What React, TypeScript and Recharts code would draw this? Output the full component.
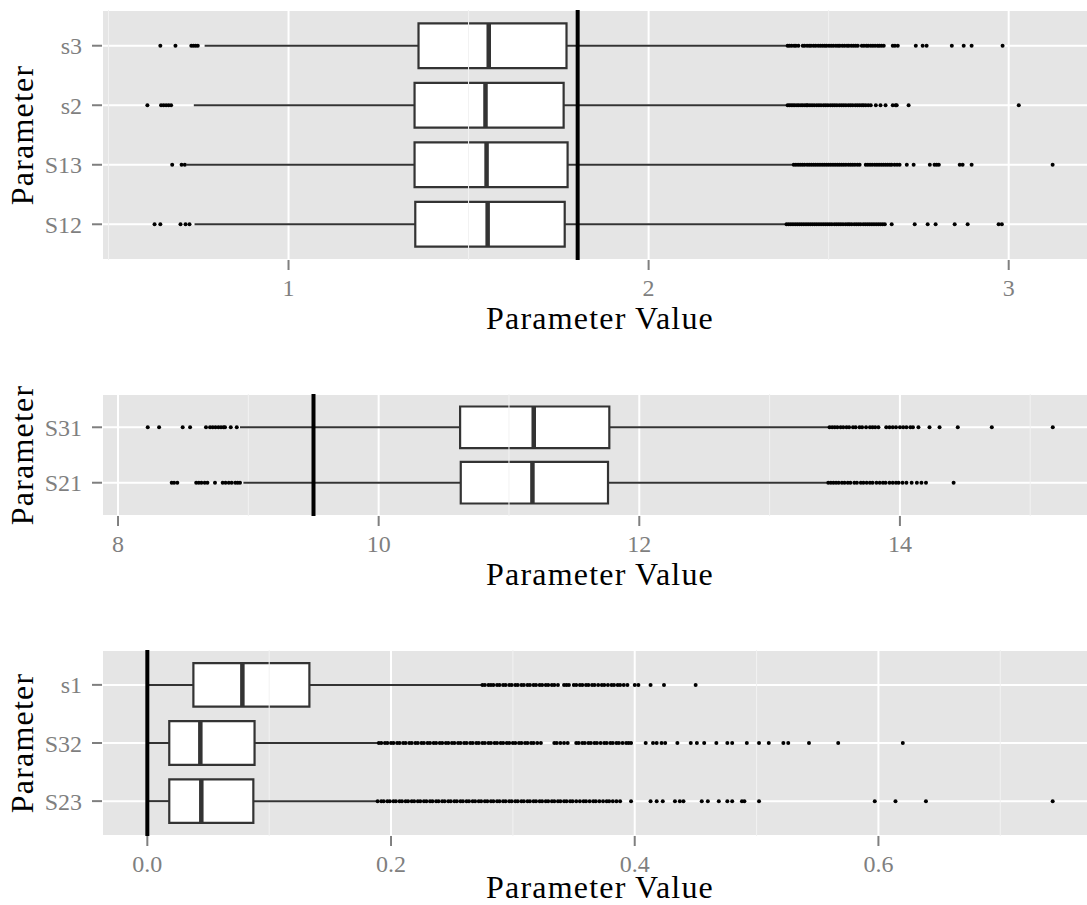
import {
  ScatterChart,
  Scatter,
  XAxis,
  YAxis,
  CartesianGrid,
  ReferenceArea,
  ReferenceLine,
  Label,
} from "recharts";

// categories are listed bottom -> top, like ggplot's factor levels
const P1_PARAMS = ["S12", "S13", "s2", "s3"];
const P1_LOWER = [0.739, 0.717, 0.737, 0.767];
const P1_Q1 = [1.352, 1.35, 1.35, 1.361];
const P1_MEDIAN = [1.553, 1.55, 1.547, 1.556];
const P1_Q3 = [1.767, 1.775, 1.764, 1.772];
const P1_UPPER = [2.381, 2.403, 2.386, 2.386];
const P1_OUTLIERS = [
  [0.628, 0.644, 0.7, 0.714, 0.725,
    2.383, 2.389, 2.395, 2.401, 2.407, 2.413, 2.419, 2.425, 2.431, 2.437, 2.443, 2.449, 2.455, 2.461,
    2.467, 2.473, 2.479, 2.485, 2.491, 2.497, 2.503, 2.509, 2.516, 2.522, 2.528, 2.534, 2.54, 2.547,
    2.553, 2.558, 2.564, 2.571, 2.577, 2.583, 2.589, 2.596, 2.602, 2.608, 2.614, 2.62, 2.626, 2.632,
    2.638, 2.644, 2.65, 2.656, 2.675, 2.739, 2.775, 2.797, 2.85, 2.886, 2.972, 2.981],
  [0.677, 0.703, 0.712,
    2.403, 2.409, 2.415, 2.421, 2.427, 2.433, 2.44, 2.446, 2.452, 2.458, 2.464, 2.47, 2.476, 2.482,
    2.488, 2.494, 2.5, 2.506, 2.512, 2.518, 2.524, 2.53, 2.536, 2.542, 2.548, 2.555, 2.561, 2.567,
    2.573, 2.58, 2.586, 2.603, 2.609, 2.615, 2.621, 2.628, 2.634, 2.64, 2.646, 2.652, 2.658, 2.664,
    2.67, 2.675, 2.683, 2.69, 2.697, 2.717, 2.736, 2.781, 2.794, 2.8, 2.806, 2.864, 2.872, 2.897, 3.122],
  [0.608, 0.646, 0.653, 0.66, 0.667, 0.674,
    2.386, 2.391, 2.396, 2.401, 2.406, 2.412, 2.417, 2.423, 2.428, 2.434, 2.439, 2.442, 2.448, 2.454,
    2.46, 2.467, 2.473, 2.479, 2.486, 2.492, 2.498, 2.505, 2.511, 2.517, 2.523, 2.53, 2.536, 2.542,
    2.548, 2.555, 2.561, 2.567, 2.574, 2.58, 2.586, 2.592, 2.597, 2.603, 2.61, 2.617, 2.631, 2.644,
    2.658, 2.678, 2.686, 2.689, 2.722, 3.028],
  [0.644, 0.686, 0.73, 0.736, 0.742, 0.748,
    2.386, 2.391, 2.397, 2.404, 2.409, 2.416, 2.428, 2.433, 2.44, 2.446, 2.451, 2.458, 2.464, 2.471,
    2.477, 2.483, 2.489, 2.494, 2.501, 2.507, 2.513, 2.52, 2.526, 2.531, 2.538, 2.544, 2.551, 2.556,
    2.563, 2.569, 2.575, 2.581, 2.592, 2.598, 2.605, 2.61, 2.617, 2.623, 2.629, 2.636, 2.641, 2.647,
    2.653, 2.678, 2.684, 2.692, 2.742, 2.761, 2.772, 2.842, 2.875, 2.897, 2.983],
];
const P1_REF = 1.803;

const P2_PARAMS = ["S21", "S31"];
const P2_LOWER = [8.962, 8.936];
const P2_Q1 = [10.63, 10.625];
const P2_MEDIAN = [11.18, 11.19];
const P2_Q3 = [11.76, 11.77];
const P2_UPPER = [13.44, 13.455];
const P2_OUTLIERS = [
  [8.412, 8.43, 8.455, 8.6, 8.62, 8.64, 8.665, 8.686, 8.744, 8.803, 8.825, 8.85, 8.872, 8.9, 8.918,
    8.936, 13.45, 13.47, 13.49, 13.51, 13.53, 13.555, 13.575, 13.6, 13.62, 13.65, 13.67, 13.7, 13.72,
    13.745, 13.77, 13.79, 13.82, 13.845, 13.87, 13.89, 13.92, 13.945, 13.97, 13.99, 14.02, 14.05,
    14.09, 14.13, 14.165, 14.2, 14.412],
  [8.228, 8.315, 8.496, 8.553, 8.675, 8.706, 8.727, 8.748, 8.77, 8.79, 8.81, 8.821, 8.865, 8.911,
    13.46, 13.48, 13.5, 13.52, 13.545, 13.565, 13.59, 13.61, 13.64, 13.66, 13.69, 13.71, 13.74, 13.77,
    13.79, 13.81, 13.835, 13.895, 13.92, 13.945, 13.97, 14.0, 14.025, 14.05, 14.08, 14.1, 14.142,
    14.227, 14.304, 14.444, 14.705, 15.173],
];
const P2_REF = 9.5;

const P3_PARAMS = ["S23", "S32", "s1"];
const P3_LOWER = [0, 0, 0];
const P3_Q1 = [0.018, 0.018, 0.0378];
const P3_MEDIAN = [0.0443, 0.0435, 0.078];
const P3_Q3 = [0.087, 0.088, 0.133];
const P3_UPPER = [0.189, 0.19, 0.274];
const P3_OUTLIERS = [
  [0.189, 0.192, 0.194, 0.197, 0.199, 0.202, 0.204, 0.207, 0.209, 0.212, 0.214, 0.217, 0.219, 0.222,
    0.224, 0.227, 0.229, 0.232, 0.234, 0.237, 0.239, 0.242, 0.244, 0.247, 0.249, 0.252, 0.254, 0.257,
    0.259, 0.262, 0.264, 0.267, 0.269, 0.272, 0.274, 0.277, 0.279, 0.282, 0.284, 0.287, 0.289, 0.292,
    0.294, 0.297, 0.299, 0.302, 0.304, 0.307, 0.309, 0.312, 0.314, 0.317, 0.319, 0.322, 0.324, 0.327,
    0.329, 0.332, 0.334, 0.337, 0.339, 0.342, 0.344, 0.347, 0.349, 0.352, 0.355, 0.358, 0.36, 0.363,
    0.366, 0.368, 0.371, 0.374, 0.377, 0.379, 0.382, 0.385, 0.388, 0.397, 0.413, 0.418, 0.423, 0.433,
    0.437, 0.44, 0.455, 0.46, 0.469, 0.476, 0.48, 0.488, 0.49, 0.502, 0.597, 0.614, 0.639, 0.743],
  [0.19, 0.192, 0.195, 0.197, 0.2, 0.202, 0.205, 0.207, 0.21, 0.212, 0.215, 0.217, 0.22, 0.222, 0.225,
    0.227, 0.23, 0.232, 0.235, 0.237, 0.24, 0.242, 0.245, 0.247, 0.25, 0.252, 0.255, 0.257, 0.26,
    0.262, 0.265, 0.267, 0.27, 0.272, 0.275, 0.277, 0.28, 0.282, 0.285, 0.287, 0.29, 0.292, 0.295,
    0.297, 0.3, 0.302, 0.305, 0.307, 0.31, 0.312, 0.315, 0.317, 0.32, 0.323, 0.334, 0.336, 0.339,
    0.342, 0.345, 0.352, 0.354, 0.357, 0.359, 0.362, 0.364, 0.367, 0.369, 0.372, 0.375, 0.377, 0.38,
    0.382, 0.385, 0.387, 0.39, 0.393, 0.395, 0.397, 0.409, 0.415, 0.418, 0.422, 0.425, 0.435, 0.446,
    0.451, 0.457, 0.467, 0.476, 0.48, 0.492, 0.502, 0.51, 0.522, 0.526, 0.543, 0.567, 0.62],
  [0.275, 0.277, 0.28, 0.282, 0.284, 0.287, 0.289, 0.292, 0.294, 0.297, 0.299, 0.302, 0.304, 0.307,
    0.309, 0.312, 0.314, 0.317, 0.319, 0.322, 0.324, 0.327, 0.329, 0.332, 0.334, 0.337, 0.342, 0.344,
    0.346, 0.35, 0.352, 0.355, 0.357, 0.36, 0.362, 0.365, 0.367, 0.37, 0.373, 0.375, 0.378, 0.381,
    0.383, 0.386, 0.388, 0.391, 0.394, 0.4, 0.403, 0.413, 0.424, 0.45],
];
const P3_REF = 0;

const FONT = '"Liberation Serif", "Times New Roman", serif';
const GREY = "#7F7F7F";
const BOX = "#333333";

function makeXTitle(offset: number) {
  return function XTitle(props: any) {
    const vb = props.viewBox || { x: 102, y: 0, width: 996 };
    return (
      <text x={vb.x + vb.width / 2} y={vb.y + offset} textAnchor="middle" fontFamily={FONT}
        fontSize={32} letterSpacing={1.2} fill="#000">
        Parameter Value
      </text>
    );
  };
}

function YTitle(props: any) {
  const vb = props.viewBox || { y: 0, height: 100 };
  const cy = vb.y + vb.height / 2;
  return (
    <text x={33} y={cy} transform={`rotate(-90, 33, ${cy})`} textAnchor="middle" fontFamily={FONT}
      fontSize={32} letterSpacing={1.2} fill="#000">
      Parameter
    </text>
  );
}

const Dot = (p: any) => <circle cx={p.cx} cy={p.cy} r={2} fill="#000" />;

function Panel(p: any) {
  const n = p.params.length;
  const rows = p.params.map((_: string, i: number) => i + 1);
  const points = p.outliers.flatMap((row: number[], i: number) => row.map((x) => ({ x, y: i + 1 })));
  const marginTop = p.plotTop - p.chartTop;
  return (
    <div style={{ position: "absolute", left: 0, top: p.chartTop }}>
      <ScatterChart width={1100} height={marginTop + p.plotHeight + p.axisHeight}
        margin={{ top: marginTop, right: 2, bottom: 0, left: 0 }}>
        <CartesianGrid fill="#E5E5E5" fillOpacity={1} stroke="#FFFFFF" strokeWidth={2} />
        <XAxis type="number" dataKey="x" domain={p.domain} allowDataOverflow ticks={p.ticks} interval={0}
          tickFormatter={p.fmt} axisLine={false} tickLine={{ stroke: GREY, strokeWidth: 2 }} tickSize={10}
          tickMargin={9} height={p.axisHeight} tick={{ fill: GREY, fontSize: 24, fontFamily: FONT }}>
          <Label content={makeXTitle(p.titleOffset)} />
        </XAxis>
        <YAxis type="number" dataKey="y" domain={[0.4, n + 0.6]} allowDataOverflow ticks={rows} interval={0}
          tickFormatter={(v: number) => p.params[v - 1]} axisLine={false}
          tickLine={{ stroke: GREY, strokeWidth: 2 }} tickSize={10} tickMargin={10} width={102}
          tick={{ fill: GREY, fontSize: 24, fontFamily: FONT }}>
          <Label content={YTitle} />
        </YAxis>
        {p.minor.map((v: number) => (
          <ReferenceLine key={"minor" + v} x={v} stroke="#F2F2F2" strokeWidth={1} />
        ))}
        {rows.map((y: number, i: number) => (
          <ReferenceLine key={"lo" + y} segment={[{ x: p.lower[i], y }, { x: p.q1[i], y }]}
            stroke={BOX} strokeWidth={2} />
        ))}
        {rows.map((y: number, i: number) => (
          <ReferenceLine key={"hi" + y} segment={[{ x: p.q3[i], y }, { x: p.upper[i], y }]}
            stroke={BOX} strokeWidth={2} />
        ))}
        {rows.map((y: number, i: number) => (
          <ReferenceArea key={"box" + y} x1={p.q1[i]} x2={p.q3[i]} y1={y - 0.375} y2={y + 0.375}
            fill="#FFFFFF" fillOpacity={1} stroke={BOX} strokeWidth={2.2} />
        ))}
        {rows.map((y: number, i: number) => (
          <ReferenceLine key={"med" + y}
            segment={[{ x: p.median[i], y: y - 0.375 }, { x: p.median[i], y: y + 0.375 }]}
            stroke={BOX} strokeWidth={4.5} />
        ))}
        <Scatter data={points} shape={Dot} isAnimationActive={false} />
        <ReferenceLine x={p.refValue} stroke="#000000" strokeWidth={4} />
      </ScatterChart>
    </div>
  );
}

export default function App() {
  return (
    <div style={{ position: "absolute", left: 0, top: 0, width: 1087, height: 905, overflow: "hidden",
      background: "#FFFFFF" }}>
      <Panel params={P1_PARAMS} lower={P1_LOWER} q1={P1_Q1} median={P1_MEDIAN} q3={P1_Q3}
        upper={P1_UPPER} outliers={P1_OUTLIERS} refValue={P1_REF} domain={[0.482, 3.248]}
        ticks={[1, 2, 3]} minor={[0.5, 1.5, 2.5]} fmt={(v: number) => String(v)}
        chartTop={0} plotTop={10} plotHeight={250} axisHeight={80} titleOffset={69} />
      <Panel params={P2_PARAMS} lower={P2_LOWER} q1={P2_Q1} median={P2_MEDIAN} q3={P2_Q3}
        upper={P2_UPPER} outliers={P2_OUTLIERS} refValue={P2_REF} domain={[7.877, 15.52]}
        ticks={[8, 10, 12, 14]} minor={[9, 11, 13, 15]} fmt={(v: number) => String(v)}
        chartTop={370} plotTop={394} plotHeight={122} axisHeight={80} titleOffset={69} />
      <Panel params={P3_PARAMS} lower={P3_LOWER} q1={P3_Q1} median={P3_MEDIAN} q3={P3_Q3}
        upper={P3_UPPER} outliers={P3_OUTLIERS} refValue={P3_REF} domain={[-0.0372, 0.7802]}
        ticks={[0, 0.2, 0.4, 0.6]} minor={[0.1, 0.3, 0.5, 0.7]} fmt={(v: number) => v.toFixed(1)}
        chartTop={630} plotTop={650} plotHeight={186} axisHeight={69} titleOffset={62} />
    </div>
  );
}
